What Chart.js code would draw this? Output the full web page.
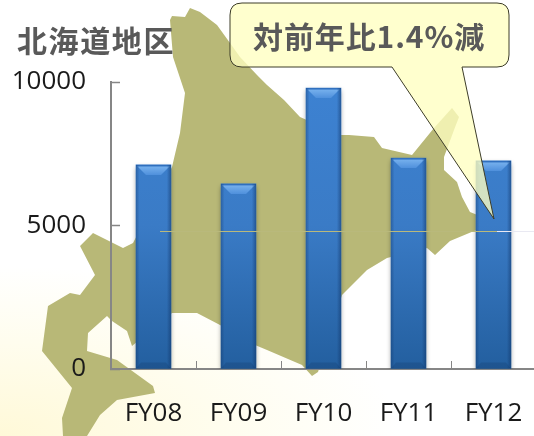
<!DOCTYPE html>
<html lang="ja">
<head>
<meta charset="utf-8">
<script src="https://cdn.jsdelivr.net/npm/chart.js@4/dist/chart.umd.min.js"></script>
<style>
html, body { margin: 0; padding: 0; width: 534px; height: 436px; overflow: hidden; background: #fff; }
#wrap { position: relative; width: 534px; height: 436px; overflow: hidden;
	background: radial-gradient(ellipse 400px 170px at 0px 436px, #fff9d8 0%, #fffdee 55%, #ffffff 100%); }
#chart { position: absolute; left: 0; top: 0; }
</style>
</head>
<body>
<div id="wrap"><canvas id="chart" width="540" height="436" style="width:540px;height:436px"></canvas></div>
<script>
var categories = ['FY08', 'FY09', 'FY10', 'FY11', 'FY12'];
var sales = [7110, 6450, 9790, 7350, 7250];
var yTicks = [0, 5000, 10000];
var titleText = '北海道地区';
var calloutText = '対前年比1.4%減';

// outline of the island behind the bars (decoration, canvas pixels)
var mapOutline = [
	[170,20],[172,16],[185,17],[190,8],[200,12],[217,25],[230,43],[240,57],[257,75],[267,85],[284,100],[300,117],
	[341,135],[349,135],[374,137],[382,148],[412,155],[434,128],[452,108],[459,117],[454,130],[444,157],[444,170],
	[457,182],[462,197],[470,212],[480,216],[478,230],[474,231],[450,241],[435,255],[427,248],[387,258],[367,270],
	[342,295],[318,372],[312,376],[302,365],[267,350],[255,345],[220,325],[197,313],[172,313],[132,346],[127,331],
	[112,321],[107,316],[88,333],[87,351],[117,360],[153,386],[155,393],[117,400],[100,415],[87,436],[63,436],
	[62,418],[72,388],[42,351],[48,306],[70,293],[80,295],[95,275],[80,246],[93,233],[123,248],[133,243],[172,167],
	[180,133],[185,93],[173,57]
];

function roundedCallout(c) {
	var l = 230, t = 3, r = 509, b = 67, rad = 12;
	c.beginPath();
	c.moveTo(l + rad, t);
	c.lineTo(r - rad, t);
	c.quadraticCurveTo(r, t, r, t + rad);
	c.lineTo(r, b - rad);
	c.quadraticCurveTo(r, b, r - rad, b);
	c.lineTo(462, b);
	c.lineTo(494, 219);
	c.lineTo(392, b);
	c.lineTo(l + rad, b);
	c.quadraticCurveTo(l, b, l, b - rad);
	c.lineTo(l, t + rad);
	c.quadraticCurveTo(l, t, l + rad, t);
	c.closePath();
}

var decorations = {
	id: 'decorations',
	beforeDraw: function (chart) {
		var c = chart.ctx;
		c.save();
		c.fillStyle = '#b8b877';
		c.beginPath();
		mapOutline.forEach(function (p, i) {
			if (i == 0) c.moveTo(p[0], p[1]); else c.lineTo(p[0], p[1]);
		});
		c.closePath();
		c.fill();
		c.restore();
	},
	beforeDatasetDraw: function (chart) {
		var c = chart.ctx;
		c.save();
		c.shadowColor = 'rgba(0,0,0,0.45)';
		c.shadowBlur = 5;
		c.shadowOffsetY = 2;
	},
	afterDatasetDraw: function (chart) {
		chart.ctx.restore();
	},
	afterDatasetsDraw: function (chart) {
		var c = chart.ctx;
		c.save();
		chart.getDatasetMeta(0).data.forEach(function (bar) {
			var l = bar.x - bar.width / 2, r = bar.x + bar.width / 2, t = bar.y, b = bar.base;
			// bevel on top
			var bevel = c.createLinearGradient(0, t, 0, t + 10);
			bevel.addColorStop(0, '#7db6f0');
			bevel.addColorStop(1, '#4f90dc');
			c.fillStyle = bevel;
			c.beginPath();
			c.moveTo(l, t); c.lineTo(r, t); c.lineTo(r - 10, t + 10); c.lineTo(l + 10, t + 10);
			c.closePath();
			c.fill();
			c.fillStyle = '#2f6fbe';
			c.fillRect(l, t, bar.width, 1.5);
			// darker sides and foot
			var side = c.createLinearGradient(l, 0, r, 0);
			side.addColorStop(0, 'rgba(15,50,100,0.35)');
			side.addColorStop(0.1, 'rgba(15,50,100,0)');
			side.addColorStop(0.88, 'rgba(15,50,100,0)');
			side.addColorStop(1, 'rgba(15,50,100,0.5)');
			c.fillStyle = side;
			c.fillRect(l, t, bar.width, b - t);
			c.fillStyle = 'rgba(20,60,110,0.3)';
			c.beginPath();
			c.moveTo(l, b); c.lineTo(r, b); c.lineTo(r - 5, b - 6); c.lineTo(l + 5, b - 6);
			c.closePath();
			c.fill();
		});
		// thin pale line crossing the bars
		c.fillStyle = '#b9b97c';
		c.fillRect(160, 231, 337, 1);
		c.fillStyle = '#e9e9f2';
		c.fillRect(497, 231, 37, 1);
		c.restore();
	},
	afterDraw: function (chart) {
		var c = chart.ctx;
		c.save();
		c.fillStyle = '#595959';
		c.font = 'bold 30px "Noto Sans CJK JP"';
		c.letterSpacing = '1.6px';
		c.textBaseline = 'middle';
		c.fillText(titleText, 17, 41);
		c.letterSpacing = '0px';
		roundedCallout(c);
		c.fillStyle = 'rgba(255,255,192,0.78)';
		c.fill();
		c.strokeStyle = '#3c3c28';
		c.lineWidth = 1;
		c.stroke();
		c.fillStyle = '#595959';
		c.font = 'bold 30px "Noto Sans CJK JP"';
		c.letterSpacing = '0.9px';
		c.fillText(calloutText, 253, 37);
		c.restore();
	}
};

var ctx = document.getElementById('chart').getContext('2d');
var myChart = new Chart(ctx, {
	type: 'bar',
	data: {
		labels: categories,
		datasets: [{
			data: sales,
			barThickness: 35,
			borderWidth: 0,
			backgroundColor: function (context) {
				var area = context.chart.chartArea;
				if (!area) return '#3a7cc8';
				var g = context.chart.ctx.createLinearGradient(0, area.top, 0, area.bottom);
				g.addColorStop(0, '#3d82d2');
				g.addColorStop(0.5, '#3a7bc6');
				g.addColorStop(1, '#235f9f');
				return g;
			}
		}]
	},
	plugins: [decorations],
	options: {
		responsive: false,
		animation: false,
		layout: { padding: { left: 0, right: 4, top: 82, bottom: 0 } },
		plugins: { legend: { display: false }, title: { display: false }, tooltip: { enabled: false } },
		scales: {
			x: {
				offset: true,
				afterFit: function (scale) {
					scale.height = 67;
					scale.paddingLeft = 0;
					scale.paddingRight = 0;
				},
				border: { color: '#868686', width: 2 },
				grid: { offset: true, drawOnChartArea: false, color: '#868686', tickLength: -8, tickWidth: 1 },
				ticks: { color: '#1a1a1a', padding: 37, maxRotation: 0, font: { family: '"Open Sans"', size: 26 } }
			},
			y: {
				min: 0,
				max: 10000,
				afterBuildTicks: function (scale) {
					scale.ticks = yTicks.map(function (v) { return { value: v }; });
				},
				afterFit: function (scale) {
					scale.width = 111;
					scale.paddingTop = 0;
					scale.paddingBottom = 0;
				},
				border: { color: '#868686', width: 2 },
				grid: { drawOnChartArea: false, color: '#868686', tickLength: -9, tickWidth: 1.5 },
				ticks: {
					color: '#1a1a1a',
					padding: 34,
					font: { family: '"Open Sans"', size: 26 },
					callback: function (v) { return String(v); }
				}
			}
		}
	}
});
</script>
</body>
</html>
